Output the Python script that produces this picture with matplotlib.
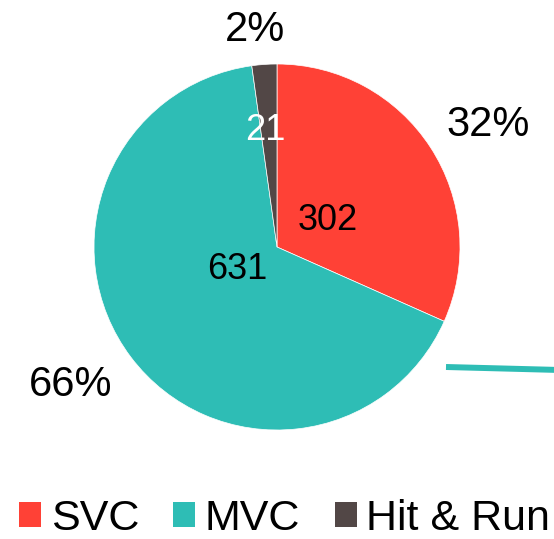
import numpy as np
import matplotlib.pyplot as plt
from matplotlib.patches import Patch

plt.rcParams['font.family'] = ['Liberation Sans', 'DejaVu Sans']

# data
labels = ["SVC", "MVC", "Hit & Run"]
counts = [302, 631, 21]
colors = ["#FF4136", "#2EBDB5", "#524746"]
value_colors = ["black", "black", "white"]

# label placement: distance from centre (radii) and angle nudge (deg)
value_dist = [0.31, 0.25, 0.64]
value_nudge = [-5.5, -7.1, 1.9]
pct_dist = [1.333, 1.356, 1.19]
pct_nudge = [-2.9, -3.3, 1.8]

W, H = 554, 539
fig = plt.figure(figsize=(W / 100, H / 100), dpi=100)
ax = fig.add_axes([0, 0, 1, 1])

cx, cy, r = 277, H - 247, 183
wedges, _ = ax.pie(counts, colors=colors, startangle=90, counterclock=False,
                   center=(cx, cy), radius=r,
                   wedgeprops=dict(linewidth=0.5, edgecolor="white"))

total = sum(counts)
for i, (w, n) in enumerate(zip(wedges, counts)):
    mid = (w.theta1 + w.theta2) / 2
    a = np.deg2rad(mid + value_nudge[i])
    ax.text(cx + value_dist[i] * r * np.cos(a), cy + value_dist[i] * r * np.sin(a),
            str(n), ha="center", va="center", fontsize=26, color=value_colors[i])
    a = np.deg2rad(mid + pct_nudge[i])
    ax.text(cx + pct_dist[i] * r * np.cos(a), cy + pct_dist[i] * r * np.sin(a),
            f"{round(100 * n / total)}%", ha="center", va="center",
            fontsize=30, color="black")

# stray leader line on the right
ax.plot([446, 560], [H - 367, H - 370], color=colors[1], lw=4.3,
        solid_capstyle="butt", clip_on=False)

ax.set_xlim(0, W)
ax.set_ylim(0, H)
ax.set_aspect("equal")
ax.axis("off")

handles = [Patch(facecolor=c, edgecolor="none") for c in colors]
fig.legend(handles, labels, loc="center", bbox_to_anchor=(284.5 / W, (H - 519) / H),
           ncol=3, frameon=False, fontsize=31, handlelength=0.51,
           handleheight=0.51, handletextpad=0.22, columnspacing=0.8,
           borderaxespad=0, borderpad=0)

fig.savefig("out.png", dpi=100)
